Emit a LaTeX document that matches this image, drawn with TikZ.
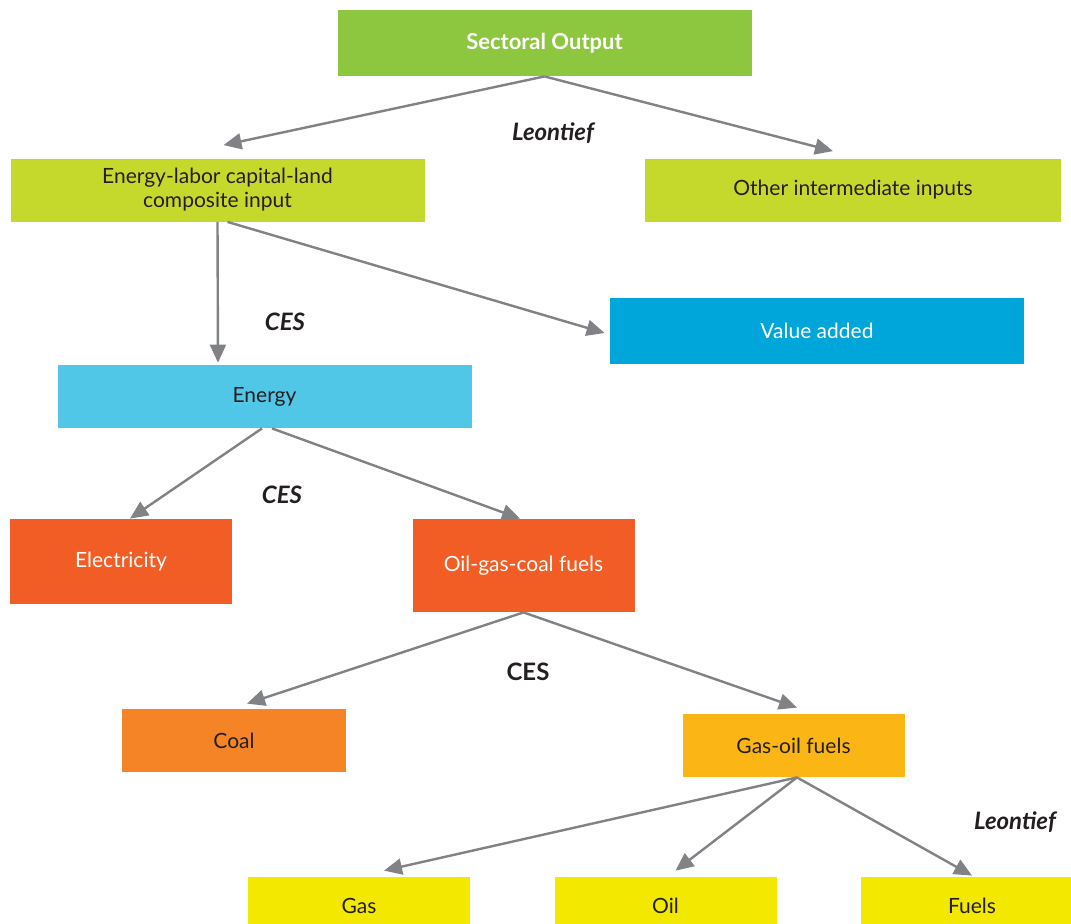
\documentclass[tikz,border=0pt]{standalone}
\usepackage{fontspec}
\setmainfont{Lato}
\usepackage{tikz}
\usetikzlibrary{arrows,arrows.meta}

\definecolor{outgreen}{HTML}{8DC63F}
\definecolor{limegreen}{HTML}{C5D92D}
\definecolor{vablue}{HTML}{00A6DA}
\definecolor{enblue}{HTML}{51C7E8}
\definecolor{redorange}{HTML}{F15D24}
\definecolor{coalorange}{HTML}{F58426}
\definecolor{goldbox}{HTML}{FBB616}
\definecolor{yellowbox}{HTML}{F2E800}
\definecolor{arrowgray}{HTML}{808285}
\definecolor{darktext}{HTML}{231F20}

\begin{document}
\begin{tikzpicture}[
x=0.5pt, y=-0.5pt,
box/.style={rectangle, inner sep=0pt, font=\fontsize{10.5}{12}\selectfont, text=darktext, align=center},
wide/.style={box, minimum width=207pt, minimum height=31.5pt},
narrow/.style={box, minimum width=111pt, minimum height=31.5pt},
whitetext/.style={text=white},
funclabel/.style={font=\fontsize{12}{14}\selectfont\bfseries\itshape, text=darktext},
arrow/.style={-{Triangle[length=9pt,width=8pt]}, line width=1.2pt, draw=arrowgray} ]

\useasboundingbox (0,0) rectangle (1071,923);

\node[wide, fill=outgreen, whitetext, font=\fontsize{11}{12}\selectfont\bfseries, minimum height=33pt] (out) at (544.5,43) {Sectoral Output};

\node[wide, fill=limegreen] (elc) at (217.5,190) {Energy-labor capital-land\\composite input};

\node[wide, fill=limegreen, minimum width=208pt] (oth) at (853,190) {Other intermediate inputs};

\node[wide, fill=vablue, whitetext, minimum height=33pt] (va) at (817,331) {Value added};

\node[wide, fill=enblue] (en) at (264.5,396.5) {Energy};

\node[narrow, fill=redorange, whitetext, minimum height=42.5pt] (ele) at (121,561.5) {Electricity};

\node[narrow, fill=redorange, whitetext, minimum height=46.5pt] (ogc) at (523.5,565.5) {Oil-gas-coal fuels};

\node[narrow, fill=coalorange, minimum width=112pt] (coal) at (234,740.5) {Coal};

\node[narrow, fill=goldbox] (gof) at (793.5,745.5) {Gas-oil fuels};

\node[narrow, fill=yellowbox, minimum height=29pt] (gas) at (359,906) {Gas};

\node[narrow, fill=yellowbox, minimum height=29pt] (oil) at (665.5,906) {Oil};

\node[narrow, fill=yellowbox, minimum height=29pt] (fuel) at (972,906) {Fuels};

\node[funclabel] (leon1) at (553,133) {Leontief};

\node[funclabel] (ces1) at (285,322) {CES};

\node[funclabel] (ces2) at (282,495) {CES};

\node[funclabel, font=\fontsize{12}{14}\selectfont\bfseries] (ces3) at (528,672) {CES};

\node[funclabel] (leon2) at (1015,822) {Leontief};

\draw[arrow] (out.south) -- ([xshift=3pt,yshift=6.5pt]elc.north);

\draw[arrow] (out.south) -- ([xshift=-10pt,yshift=3.5pt]oth.north);

\draw[arrow] (elc.south) -- ([xshift=-23.25pt,yshift=1pt]en.north);

\draw[arrow] ([xshift=5pt]elc.south) -- ([xshift=-2.5pt,yshift=-1pt]va.west);

\draw[arrow] ([xshift=-1.25pt]en.south) -- ([xshift=4.5pt]ele.north);

\draw[arrow] ([xshift=3.75pt]en.south) -- ([xshift=-1.75pt]ogc.north);

\draw[arrow] (ogc.south) -- ([xshift=6.5pt,yshift=2.5pt]coal.north);

\draw[arrow] (ogc.south) -- ([xshift=1.75pt,yshift=3pt]gof.north);

\draw[arrow] ([xshift=1.75pt]gof.south) -- ([xshift=12.5pt,yshift=3pt]gas.north);

\draw[arrow] ([xshift=1.75pt]gof.south) -- ([xshift=5pt,yshift=3pt]oil.north);

\draw[arrow] ([xshift=1.75pt]gof.south) -- ([yshift=0.5pt]fuel.north);

\end{tikzpicture}
\end{document}
